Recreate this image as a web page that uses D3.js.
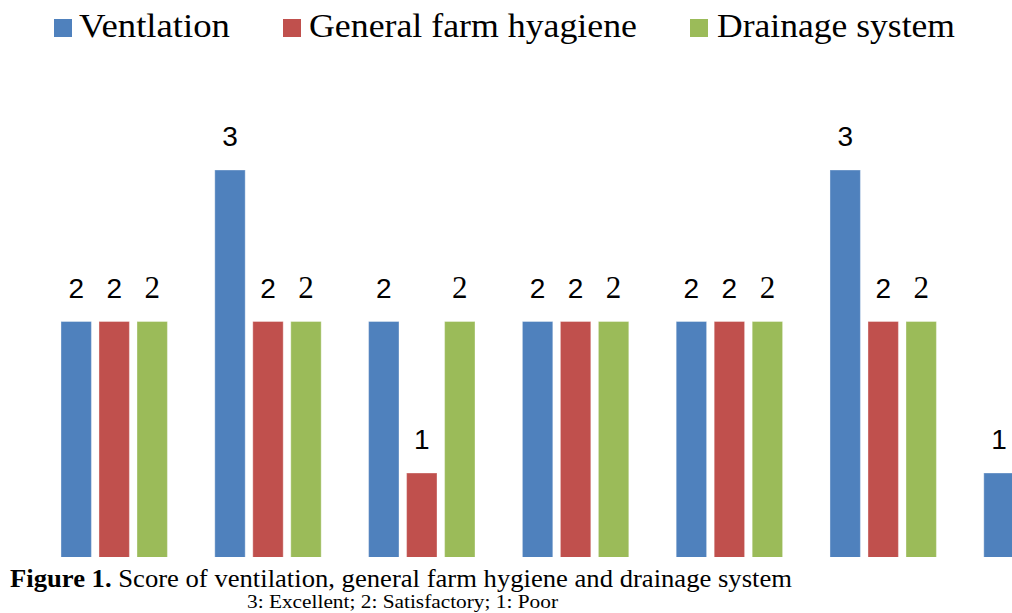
<!DOCTYPE html>
<html>
<head>
<meta charset="utf-8">
<script src="https://cdn.jsdelivr.net/npm/d3@7"></script>
<style>
html,body{margin:0;padding:0;background:#fff;}
svg{display:block;}
.serif{font-family:"Liberation Serif","Times New Roman",Times,serif;}
.sans{font-family:"Liberation Sans",Arial,Helvetica,sans-serif;}
</style>
</head>
<body>
<svg id="chart" width="1012" height="613"></svg>
<script>
// ---- data ----
const categories = ["Farm 1","Farm 2","Farm 3","Farm 4","Farm 5","Farm 6","Farm 7"];
const seriesNames = ["Ventlation","General farm hyagiene","Drainage system"];
const ventilation = [2, 3, 2, 2, 2, 3, 1];
const hygiene     = [2, 2, 1, 2, 2, 2, null];
const drainage    = [2, 2, 2, 2, 2, 2, null];
const colors = ["#4F81BD", "#C0504D", "#9BBB59"];
const captionBold = "Figure 1.";
const captionText = " Score of ventilation, general farm hygiene and drainage system";
const captionSub = "3: Excellent; 2: Satisfactory; 1: Poor";

const seriesValues = [ventilation, hygiene, drainage];
const rows = [];
categories.forEach((c, i) => {
  seriesValues.forEach((vals, s) => {
    if (vals[i] != null) rows.push({cat: c, s: s, v: vals[i]});
  });
});

const svg = d3.select("#chart");

// ---- scales ----
const x0 = d3.scaleBand().domain(categories)
  .range([37, 37 + 7 * 153.8]).paddingInner(0.26).paddingOuter(0.13);
const x1 = d3.scaleBand().domain([0,1,2]).range([4, 110.4])
  .paddingInner(0.2).paddingOuter(0);
const y = d3.scaleLinear().domain([0, 3]).range([624.5, 170]);

svg.append("defs").append("clipPath").attr("id","plotclip")
  .append("rect").attr("x",0).attr("y",0).attr("width",1012).attr("height",557);

const plot = svg.append("g").attr("clip-path","url(#plotclip)");

plot.selectAll("rect.bar").data(rows).join("rect")
  .attr("class","bar")
  .attr("x", d => x0(d.cat) + x1(d.s))
  .attr("width", x1.bandwidth())
  .attr("y", d => y(d.v))
  .attr("height", d => y(0) - y(d.v))
  .attr("fill", d => colors[d.s])
  .attr("stroke", "#ffffff").attr("stroke-opacity", 0.35).attr("stroke-width", 1);

// data labels
svg.selectAll("text.lbl").data(rows).join("text")
  .attr("class", d => "lbl " + (d.s === 2 ? "serif" : "sans"))
  .attr("x", d => x0(d.cat) + x1(d.s) + x1.bandwidth()/2)
  .attr("y", d => y(d.v) - 24)
  .attr("text-anchor","middle")
  .style("font-size", d => d.s === 2 ? "31px" : "28px")
  .attr("fill","#000")
  .text(d => d.v);

// ---- legend ----
const legendPos = [
  {sq: 54, tx: 79, w: 151},
  {sq: 283, tx: 309, w: 328},
  {sq: 690, tx: 717, w: 238}
];
const lg = svg.append("g");
seriesNames.forEach((name, i) => {
  lg.append("rect").attr("x", legendPos[i].sq).attr("y", 19)
    .attr("width", 18).attr("height", 18).attr("fill", colors[i]);
  lg.append("text").attr("class","serif").attr("x", legendPos[i].tx).attr("y", 37)
    .style("font-size", "33px").attr("fill","#000")
    .attr("textLength", legendPos[i].w).attr("lengthAdjust","spacingAndGlyphs")
    .text(name);
});

// ---- caption ----
svg.append("rect").attr("x",0).attr("y",557).attr("width",1012).attr("height",56).attr("fill","#fff");
const cap = svg.append("text").attr("class","serif").attr("x", 10).attr("y", 587)
  .style("font-size", "25px").attr("fill","#000")
  .attr("textLength", 782).attr("lengthAdjust","spacingAndGlyphs");
cap.append("tspan").style("font-weight","bold").text(captionBold);
cap.append("tspan").text(captionText);

svg.append("text").attr("class","serif").attr("x", 247).attr("y", 608)
  .style("font-size", "19px").attr("fill","#000")
  .attr("textLength", 311).attr("lengthAdjust","spacingAndGlyphs")
  .text(captionSub);
</script>
</body>
</html>
